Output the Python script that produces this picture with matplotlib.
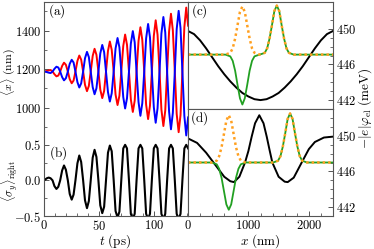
import numpy as np
import matplotlib
matplotlib.use("Agg")
import matplotlib.pyplot as plt
from matplotlib.ticker import MultipleLocator, FuncFormatter

plt.rcParams['mathtext.fontset'] = 'cm'
plt.rcParams['font.family'] = 'serif'

# ---- panel (a)/(b): time traces (t in ps) ----
t = [0, 0.8, 2.6, 4.3, 6.0, 7.8, 9.5, 11.3, 13.0, 14.7, 16.5, 18.2, 19.9, 21.7, 23.4,
     25.2, 26.9, 28.6, 30.4, 32.1, 33.8, 35.6, 37.3, 39.1, 40.8, 42.5, 44.3, 46.0,
     47.7, 49.5, 51.2, 53.0, 54.7, 56.4, 58.2, 59.9, 61.6, 63.4, 65.1, 66.9, 68.6,
     70.3, 72.1, 73.8, 75.5, 77.3, 79.0, 80.8, 82.5, 84.2, 86.0, 87.7, 89.4, 91.2,
     92.9, 94.7, 96.4, 98.1, 99.9, 101.6, 103.3, 105.1, 106.8, 108.6, 110.3, 112.0,
     113.8, 115.5, 117.2, 119.0, 120.7, 122.5, 124.2, 125.9, 127.7, 129.4, 131.1]

x_red = [1186, 1187, 1190, 1193, 1195, 1187, 1173, 1162, 1166, 1187, 1216, 1233, 1222,
         1187, 1147, 1126, 1140, 1187, 1242, 1270, 1249, 1187, 1118, 1085, 1112, 1187,
         1268, 1305, 1274, 1187, 1093, 1049, 1086, 1187, 1294, 1343, 1300, 1187, 1067,
         1013, 1061, 1187, 1320, 1379, 1326, 1187, 1042, 977, 1035, 1187, 1346, 1417,
         1352, 1187, 1015, 940, 1009, 1187, 1372, 1453, 1378, 1187, 990, 904, 984, 1187,
         1396, 1487, 1402, 1187, 967, 872, 961, 1187, 1419, 1519, 1425]

x_blue = [1186, 1187, 1184, 1181, 1179, 1187, 1201, 1212, 1208, 1187, 1158, 1141, 1152,
          1187, 1227, 1248, 1234, 1187, 1132, 1104, 1125, 1187, 1256, 1289, 1262, 1187,
          1106, 1069, 1100, 1187, 1281, 1325, 1288, 1187, 1080, 1031, 1074, 1187, 1307,
          1361, 1313, 1187, 1054, 995, 1048, 1187, 1332, 1397, 1339, 1187, 1028, 957,
          1022, 1187, 1359, 1434, 1365, 1187, 1002, 921, 996, 1187, 1384, 1470, 1390,
          1187, 978, 887, 972, 1187, 1407, 1502, 1413, 1187, 955, 855, 949]

sigma_y = [0.0, 0.01, 0.03, 0.04, 0.03, 0.0, -0.08, -0.12, -0.09, 0.0, 0.14, 0.21, 0.15,
           0.0, -0.19, -0.27, -0.2, 0.0, 0.24, 0.35, 0.26, 0.0, -0.28, -0.39, -0.29, 0.0,
           0.32, 0.43, 0.33, 0.0, -0.35, -0.46, -0.37, 0.0, 0.39, 0.49, 0.41, 0.0, -0.43,
           -0.52, -0.44, 0.0, 0.45, 0.5, 0.45, 0.0, -0.47, -0.54, -0.47, 0.0, 0.45, 0.5,
           0.45, 0.0, -0.47, -0.54, -0.47, 0.0, 0.45, 0.5, 0.45, 0.0, -0.47, -0.54, -0.47,
           0.0, 0.45, 0.5, 0.45, 0.0, -0.47, -0.54, -0.47, 0.0, 0.45, 0.5, 0.45]

# ---- panel (c): potential and densities vs x (nm), meV ----
xc_pot = [0, 100, 200, 300, 400, 500, 600, 700, 800, 900, 1000, 1100, 1200,
          1300, 1400, 1500, 1600, 1700, 1800, 1900, 2000, 2100, 2200, 2300, 2400]
pot_c = [449.75, 449.4, 448.7, 447.8, 446.8, 445.8, 444.9, 444.1, 443.4, 442.8, 442.4,
         442.1, 442.0, 442.1, 442.4, 442.8, 443.4, 444.1, 444.9, 445.8, 446.8, 447.8,
         448.7, 449.4, 449.75]

xc_den = [0, 500, 620, 660, 700, 740, 780, 820, 860, 900, 940, 980, 1020, 1060, 1100,
          1140, 1185, 1230, 1270, 1310, 1350, 1390, 1430, 1470, 1510, 1550, 1590, 1630,
          1670, 1710, 1750, 2000, 2400]
orange_c = [447.1, 447.1, 447.1, 447.2, 447.3, 447.8, 448.9, 450.4, 451.9, 452.5, 451.9,
            450.4, 448.9, 447.8, 447.3, 447.2, 447.1, 447.2, 447.3, 447.8, 448.9, 450.4,
            452.0, 452.6, 452.0, 450.4, 448.9, 447.8, 447.3, 447.2, 447.1, 447.1, 447.1]
green_c = [447.1, 447.1, 447.1, 447.0, 446.9, 446.4, 445.3, 443.7, 442.2, 441.5, 442.2,
           443.7, 445.3, 446.4, 446.9, 447.0, 447.1, 447.2, 447.3, 447.8, 448.9, 450.4,
           452.0, 452.6, 452.0, 450.4, 448.9, 447.8, 447.3, 447.2, 447.1, 447.1, 447.1]

# ---- panel (d) ----
xd_pot = [0, 150, 300, 400, 500, 600, 700, 760, 850, 944, 1000, 1054, 1110, 1180, 1250,
          1303, 1350, 1396, 1500, 1600, 1650, 1750, 1882, 2000, 2100, 2250, 2400]
pot_d = [449.7, 449.2, 448.1, 447.2, 446.3, 445.4, 444.9, 444.8, 445.4, 447.0, 448.3,
         449.9, 451.4, 452.3, 451.4, 449.9, 448.4, 447.0, 445.4, 444.85, 444.8, 445.3,
         447.0, 448.5, 449.3, 449.8, 449.9]

xd_den = [0, 300, 395, 435, 475, 515, 555, 595, 635, 675, 715, 755, 795, 835, 875, 915,
          955, 1200, 1410, 1450, 1490, 1530, 1570, 1610, 1650, 1690, 1730, 1770, 1810,
          1850, 1890, 1930, 1970, 2400]
orange_d = [447.0, 447.0, 447.0, 447.1, 447.2, 447.7, 448.7, 450.2, 451.7, 452.3, 451.7,
            450.2, 448.7, 447.7, 447.2, 447.1, 447.0, 447.0, 447.0, 447.1, 447.2, 447.7,
            448.8, 450.3, 451.9, 452.5, 451.9, 450.3, 448.8, 447.7, 447.2, 447.1, 447.0,
            447.0]
green_d = [447.0, 447.0, 447.0, 446.9, 446.8, 446.3, 445.3, 443.8, 442.3, 441.7, 442.3,
           443.8, 445.3, 446.3, 446.8, 446.9, 447.0, 447.0, 447.0, 447.1, 447.2, 447.7,
           448.8, 450.3, 451.9, 452.5, 451.9, 450.3, 448.8, 447.7, 447.2, 447.1, 447.0,
           447.0]

W, H = 374, 249
fig = plt.figure(figsize=(W / 100, H / 100), dpi=100)


def box(x0, y0, x1, y1):
    # pixel box (top-left origin) -> figure fraction
    return [x0 / W, 1 - y1 / H, (x1 - x0) / W, (y1 - y0) / H]


ax_a = fig.add_axes(box(44, 2, 188, 137))
ax_b = fig.add_axes(box(44, 137, 188, 216))
ax_c = fig.add_axes(box(188, 2, 333, 109))
ax_d = fig.add_axes(box(188, 109, 333, 216))

spine_col = '#555555'
fs = 9.5
tfs = 9
for ax in (ax_a, ax_b, ax_c, ax_d):
    for s in ax.spines.values():
        s.set_color(spine_col)
        s.set_linewidth(0.8)
    ax.tick_params(which='both', direction='in', color=spine_col, labelsize=tfs, pad=2)
    ax.tick_params(which='major', length=3.5, width=0.7)
    ax.tick_params(which='minor', length=2, width=0.6)

fmt_int = FuncFormatter(lambda v, p: r'$%d$' % round(v))
fmt_one = FuncFormatter(lambda v, p: r'$%.1f$' % v)

# (a)
ax_a.plot(t, x_red, color='#ff0000', lw=1.4)
ax_a.plot(t, x_blue, color='#0000ff', lw=1.4)
ax_a.set_xlim(0, 131)
ax_a.set_ylim(847, 1548)
ax_a.spines['bottom'].set_visible(False)
ax_a.set_xticks([])
ax_a.yaxis.set_major_locator(MultipleLocator(200))
ax_a.yaxis.set_minor_locator(MultipleLocator(100))
ax_a.yaxis.set_major_formatter(fmt_int)
ax_a.tick_params(axis='y', which='both', right=False, pad=1.5)

# (b)
ax_b.plot(t, sigma_y, color='black', lw=1.5)
ax_b.set_xlim(0, 131)
ax_b.set_ylim(-0.5, 0.61)
ax_b.spines['top'].set_visible(False)
ax_b.yaxis.set_major_locator(MultipleLocator(0.5))
ax_b.yaxis.set_minor_locator(MultipleLocator(0.25))
ax_b.yaxis.set_major_formatter(fmt_one)
ax_b.xaxis.set_major_locator(MultipleLocator(50))
ax_b.xaxis.set_minor_locator(MultipleLocator(10))
ax_b.xaxis.set_major_formatter(fmt_int)
ax_b.tick_params(axis='x', which='both', top=False, pad=2.5)
ax_b.tick_params(axis='y', which='both', right=False, pad=2)

# (c), (d)
for ax, xp, pot, xn, og, gr in ((ax_c, xc_pot, pot_c, xc_den, orange_c, green_c),
                                (ax_d, xd_pot, pot_d, xd_den, orange_d, green_d)):
    ax.plot(xp, pot, color='black', lw=1.4)
    ax.plot(xn, gr, color='#22a022', lw=1.3)
    ax.plot(xn, og, color='#ffa020', lw=1.8, ls=(0, (1, 1.2)))
    ax.set_xlim(0, 2400)
    ax.set_ylim(441, 453)
    ax.yaxis.tick_right()
    ax.yaxis.set_major_locator(MultipleLocator(4))
    ax.yaxis.set_minor_locator(MultipleLocator(1))
    ax.yaxis.set_major_formatter(fmt_int)
    ax.tick_params(axis='y', which='both', left=False, right=True)
    ax.xaxis.set_major_locator(MultipleLocator(1000))
    ax.xaxis.set_minor_locator(MultipleLocator(200))
    ax.xaxis.set_major_formatter(fmt_int)
    ax.tick_params(axis='x', which='both', top=False, pad=2.5)
    ax.set_yticks([442, 446, 450])

ax_c.tick_params(axis='x', which='both', bottom=False, labelbottom=False)

# panel letters
fig.text(57 / W, 1 - 11 / H, r'$\mathrm{(a)}$', ha='center', va='center', fontsize=fs)
fig.text(58 / W, 1 - 153 / H, r'$\mathrm{(b)}$', ha='center', va='center', fontsize=fs)
fig.text(199 / W, 1 - 11 / H, r'$\mathrm{(c)}$', ha='center', va='center', fontsize=fs)
fig.text(199 / W, 1 - 118 / H, r'$\mathrm{(d)}$', ha='center', va='center', fontsize=fs)

# axis labels
fig.text(8 / W, 1 - 72 / H, r'$\langle x\rangle\ (\mathrm{nm})$', rotation=90,
         ha='center', va='center', fontsize=8.5)
fig.text(10 / W, 1 - 181 / H, r'$\langle\sigma_y\rangle_{\mathrm{right}}$', rotation=90,
         ha='center', va='center', fontsize=8.5)
fig.text(115 / W, 1 - 241 / H, r'$t\ (\mathrm{ps})$', ha='center', va='center', fontsize=fs)
fig.text(260 / W, 1 - 241 / H, r'$x\ (\mathrm{nm})$', ha='center', va='center', fontsize=fs)
fig.text(365 / W, 1 - 108 / H, r'$-|e|\varphi_{\mathrm{el}}\ (\mathrm{meV})$', rotation=90,
         ha='center', va='center', fontsize=fs)

fig.savefig('out.png', dpi=100)
